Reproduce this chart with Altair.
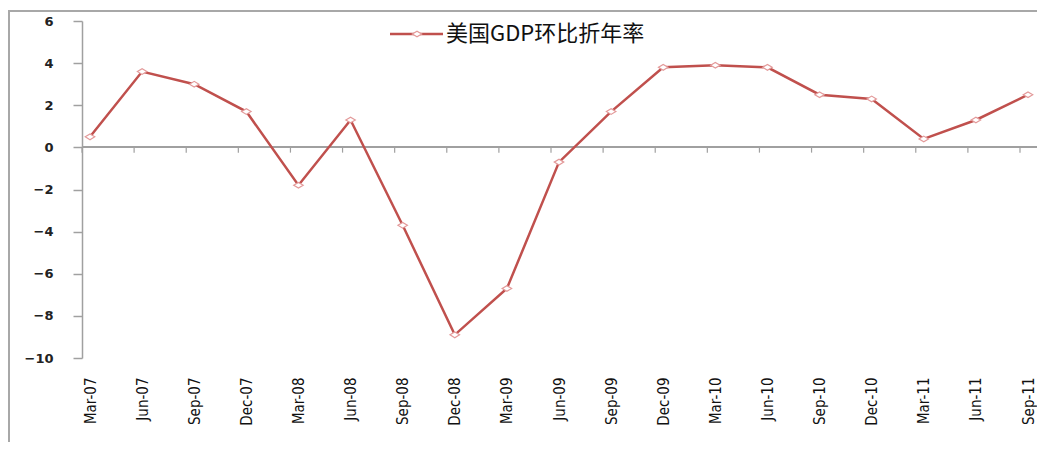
import altair as alt
import pandas as pd

quarters = ["Mar-07", "Jun-07", "Sep-07", "Dec-07", "Mar-08", "Jun-08", "Sep-08",
            "Dec-08", "Mar-09", "Jun-09", "Sep-09", "Dec-09", "Mar-10", "Jun-10",
            "Sep-10", "Dec-10", "Mar-11", "Jun-11", "Sep-11"]
gdp = [0.5, 3.6, 3.0, 1.7, -1.8, 1.3, -3.7, -8.9, -6.7, -0.7, 1.7, 3.8, 3.9, 3.8,
       2.5, 2.3, 0.4, 1.3, 2.5]
y_ticks = [6, 4, 2, 0, -2, -4, -6, -8, -10]
series_name = "美国GDP环比折年率"

df = pd.DataFrame({"q": quarters, "v": gdp})

W, H = 946, 337
LINE = "#c0504d"
MARK = "#e39a9a"
GRAY = "#a0a0a0"
XFONT = "Liberation Sans Narrow, Arial Narrow, DejaVu Sans Condensed, Liberation Sans, sans-serif"

xenc = alt.X("q:N", sort=quarters,
             scale=alt.Scale(type="point", range=[8, W], padding=0),
             axis=alt.Axis(title=None, labelAngle=-90, domain=False, ticks=False,
                           labelPadding=19, labelFont=XFONT,
                           labelFontSize=15, labelColor="#111111"))
yenc = alt.Y("v:Q", scale=alt.Scale(domain=[-10, 6], nice=False, zero=False),
             axis=alt.Axis(title=None, values=y_ticks, grid=False, domainColor=GRAY,
                           domainWidth=1.5, tickColor=GRAY, tickSize=9, tickWidth=1.5,
                           labelPadding=20, labelFont="DejaVu Sans", labelFontSize=13,
                           labelFontWeight="bold", labelColor="#222222"))

base = alt.Chart(df)

zero_rule = base.mark_rule(color=GRAY, strokeWidth=1.2).encode(
    y=alt.datum(0), x=alt.value(0), x2=alt.value(W + 9))
ticks = base.mark_rule(color=GRAY, strokeWidth=1.2, xOffset=-8).encode(
    x=xenc, y=alt.datum(0), y2=alt.datum(-0.25))
line = base.mark_line(color=LINE, strokeWidth=2.5).encode(x=xenc, y=yenc)
pts = base.mark_point(shape="M-1,0L0,-0.6L1,0L0,0.6Z", filled=True, fill="white",
                      stroke=MARK, strokeWidth=1.2, size=90, opacity=1).encode(x=xenc, y=yenc)

leg_df = pd.DataFrame({"name": [series_name]})
leg = alt.Chart(leg_df)
leg_line = leg.mark_rule(color=LINE, strokeWidth=2.5).encode(
    x=alt.value(308), x2=alt.value(361), y=alt.value(13))
leg_pt = leg.mark_point(shape="M-1,0L0,-0.6L1,0L0,0.6Z", filled=True, fill="white",
                        stroke=MARK, strokeWidth=1.2, size=90, opacity=1).encode(
    x=alt.value(335), y=alt.value(13))
leg_txt = leg.mark_text(align="left", baseline="middle", font="Noto Sans CJK SC",
                        fontSize=22, color="#111111").encode(
    x=alt.value(364), y=alt.value(13), text="name:N")

frame = leg.mark_rect(fill=None, stroke="#a8a8a8", strokeWidth=2).encode(
    x=alt.value(-73), x2=alt.value(W + 40), y=alt.value(-10), y2=alt.value(H + 200))

chart = alt.layer(frame, zero_rule, ticks, line, pts,
                  leg_line, leg_pt, leg_txt).properties(
    width=W, height=H,
    padding={"left": 74, "top": 13, "right": 9, "bottom": 84},
    autosize=alt.AutoSizeParams(type="none"),
    background="white",
).configure_view(stroke=None)

chart.save("out.html", embed_options={"renderer": "svg", "actions": False})
